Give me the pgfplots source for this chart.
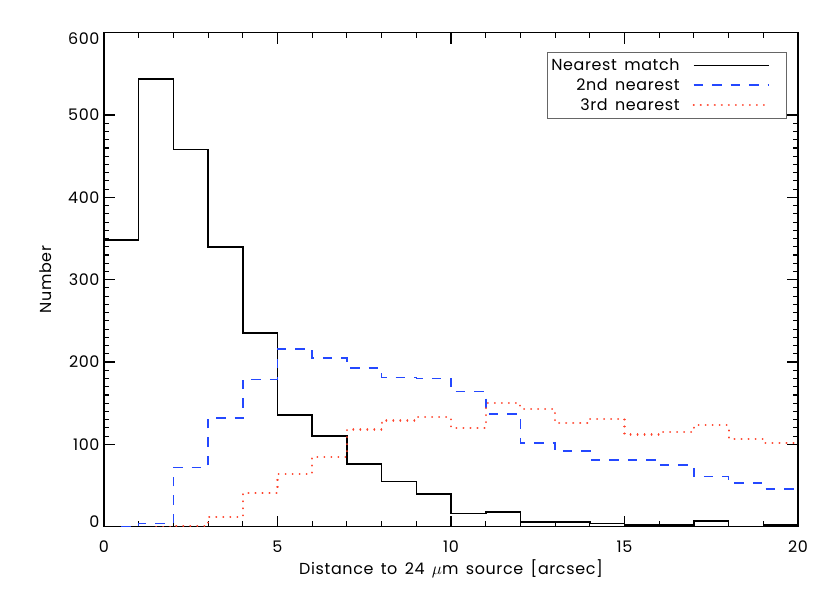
\documentclass[border=0pt]{standalone}
\usepackage{pgfplots}
\pgfplotsset{compat=1.18}
\usepackage{fontspec}
\setmainfont[LetterSpace=4,WordSpace=1.5]{Poppins}
\definecolor{idlblue}{RGB}{36,72,255}
\definecolor{idlred}{RGB}{255,64,40}
\newcommand\lbl{\fontsize{16}{19}\selectfont}
\begin{document}
\begin{tikzpicture}
\useasboundingbox (-104bp,-66.3bp) rectangle (726bp,526.7bp);
\begin{axis}[
  at={(0,0)}, anchor=south west,
  width=694bp, height=494bp, scale only axis,
  xmin=0, xmax=20, ymin=0, ymax=600,
  xtick={0,5,...,20}, minor x tick num=4,
  ytick={100,200,...,500}, minor y tick num=9,
  extra y ticks={0,600},
  extra y tick labels={\raisebox{4.5bp}{0},\raisebox{-6.5bp}{600}},
  extra y tick style={yticklabel style={anchor=base east, yshift=-5.5bp}},
  tick align=inside,
  major tick length=11bp, minor tick length=5.5bp,
  axis line style={line width=1.3bp},
  every tick/.style={black, line width=1.1bp},
  /pgf/number format/assume math mode=true,
  tick label style={font=\lbl},
  xticklabel style={anchor=base, yshift=-26bp},
  yticklabel style={anchor=east, xshift=-1bp},
  xlabel={Distance to 24 $\mu$m source [arcsec]},
  ylabel={Number},
  label style={font=\lbl},
  xlabel style={at={(axis description cs:0.5,-0.0958)}, anchor=base},
  ylabel style={at={(axis description cs:-0.0754,0.5)}, anchor=base},
  legend cell align=right,
  legend plot pos=right,
  legend image code/.code={%
    \path (0bp,0bp) (100bp,0bp);
    \draw[#1] (11bp,0bp) -- (86bp,0bp);},
  legend style={at={(axis description cs:0.9827,0.9603)}, anchor=north east,
    draw=black!60, font=\lbl, inner xsep=2bp, inner ysep=4.3bp,
    row sep=2.5bp},
]
\addplot[const plot, black, line width=1.6bp] coordinates {
(0,348) (1,544) (2,458) (3,340) (4,235) (5,136) (6,110) (7,76) (8,55) (9,40)
(10,16) (11,18) (12,6) (13,6) (14,4) (15,2) (16,2) (17,7) (18,0) (19,2) (20,2)
};
\addlegendentry{Nearest match}
\addplot[const plot, idlblue, line width=1.6bp, dash pattern=on 9.5bp off 9bp] coordinates {
(0.5,0) (1,4) (2,72) (3,132) (4,179) (5,216) (6,205) (7,193) (8,181) (9,180)
(10,164) (11,137) (12,102) (13,92) (14,81) (15,81) (16,75) (17,61) (18,53) (19,46) (20,46)
};
\addlegendentry{2nd nearest}
\addplot[const plot, idlred, line width=2.1bp, line cap=round, dash pattern=on 0.01bp off 7bp] coordinates {
(1.5,0) (2,1) (3,12) (4,41) (5,64) (6,85) (7,118) (8,129) (9,133)
(10,120) (11,150) (12,143) (13,126) (14,131) (15,112) (16,115) (17,123) (18,107) (19,102) (20,102)
};
\addlegendentry{3rd nearest}
\end{axis}
\end{tikzpicture}
\end{document}
